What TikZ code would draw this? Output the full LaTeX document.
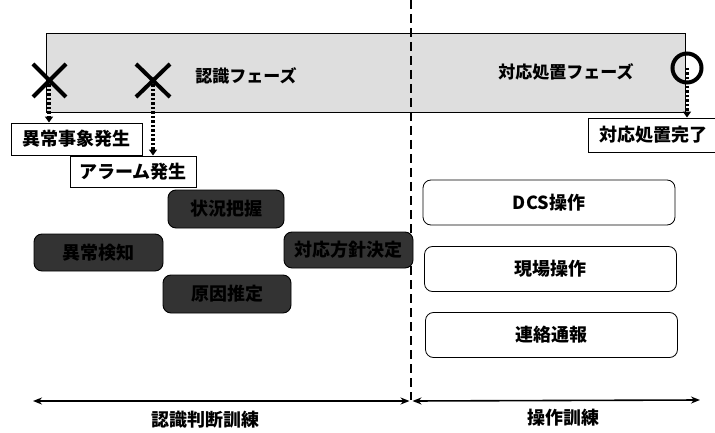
\documentclass[tikz,border=0pt]{standalone}
\usepackage{fontspec}
\setmainfont{Noto Sans CJK JP}
\usetikzlibrary{arrows.meta,calc}
\tikzset{
  lbl/.style={font=\bfseries\fontsize{18}{20}\selectfont},
  phlbl/.style={font=\bfseries\fontsize{17}{19}\selectfont},
  evbox/.style={draw, line width=0.9pt, fill=white, inner sep=0pt, lbl},
  darkbox/.style={draw=black, line width=0.9pt, fill=black!80, rounded corners=8pt, inner sep=0pt, lbl, text=black},
  opbox/.style={draw, line width=0.8pt, fill=white, rounded corners=8pt, inner sep=0pt, lbl, minimum width=252pt, minimum height=45pt},
  xmark/.style={line width=4pt},
  evarrow/.style={line width=3.2pt, dash pattern=on 2.5pt off 2pt, -{Triangle[width=8pt,length=6pt]}},
  span/.style={line width=1.6pt, {Stealth[length=9pt,width=7pt]}-{Stealth[length=9pt,width=7pt]}}
}
\begin{document}
\begin{tikzpicture}[x=1pt,y=-1pt]
\path[use as bounding box] (0,0) rectangle (715,433);
% phase band
\draw[line width=0.9pt, fill=black!13] (46,33) rectangle (685,112);
\node[phlbl] (p1) at (246,76) {認識フェーズ};
\node[phlbl] (p2) at (566,72) {対応処置フェーズ};
% divider
\coordinate (dtop) at (411,0);
\coordinate (dbot) at (411,400);
\draw[line width=2.8pt, dash pattern=on 9pt off 5pt] (dtop) -- (dbot);
% X marks
\coordinate (x1) at (49,80);
\coordinate (x2) at (153,80);
\draw[xmark] ($(x1)+(-16,-16)$) -- ++(33,33) ($(x1)+(17,-16)$) -- ++(-33,33);
\draw[xmark] ($(x2)+(-17,-16)$) -- ++(34,33) ($(x2)+(17,-16)$) -- ++(-34,33);
% circle
\node[draw, circle, line width=4pt, minimum size=29pt, inner sep=0pt] (c1) at (687,68) {};
% event boxes
\node[evbox, minimum width=131pt, minimum height=32pt] (e1) at (76.5,139) {異常事象発生};
\node[evbox, minimum width=126pt, minimum height=31pt] (e2) at (133,171.5) {アラーム発生};
\node[evbox, minimum width=130pt, minimum height=34pt] (e3) at (653,135) {対応処置完了};
\draw[evarrow] (x1) -- (x1 |- e1.north);
\draw[evarrow] (x2) -- (x2 |- e2.north);
\draw[evarrow] (c1.center) -- (c1.center |- e3.north);
% recognition/judgement boxes
\node[darkbox, minimum width=116pt, minimum height=38pt] (d1) at (226,209) {状況把握};
\node[darkbox, minimum width=129pt, minimum height=37pt] (d2) at (98.5,252.5) {異常検知};
\node[darkbox, minimum width=129pt, minimum height=36pt] (d3) at (348.5,250) {対応方針決定};
\node[darkbox, minimum width=128pt, minimum height=38pt] (d4) at (227,294) {原因推定};
% operation boxes
\node[opbox] (o1) at (549,202.5) {DCS操作};
\node[opbox] (o2) at (550.5,269) {現場操作};
\node[opbox] (o3) at (551.5,335) {連絡通報};
% bottom spans
\coordinate (s1) at (33,401);
\coordinate (s2) at (409.5,401);
\coordinate (s3) at (412.5,401);
\coordinate (s4) at (700,400);
\draw[span] (s1) -- (s2);
\draw[span] (s3) -- (s4);
\node[lbl] (t1) at (205,420) {認識判断訓練};
\node[lbl] (t2) at (563,418) {操作訓練};
\end{tikzpicture}
\end{document}
